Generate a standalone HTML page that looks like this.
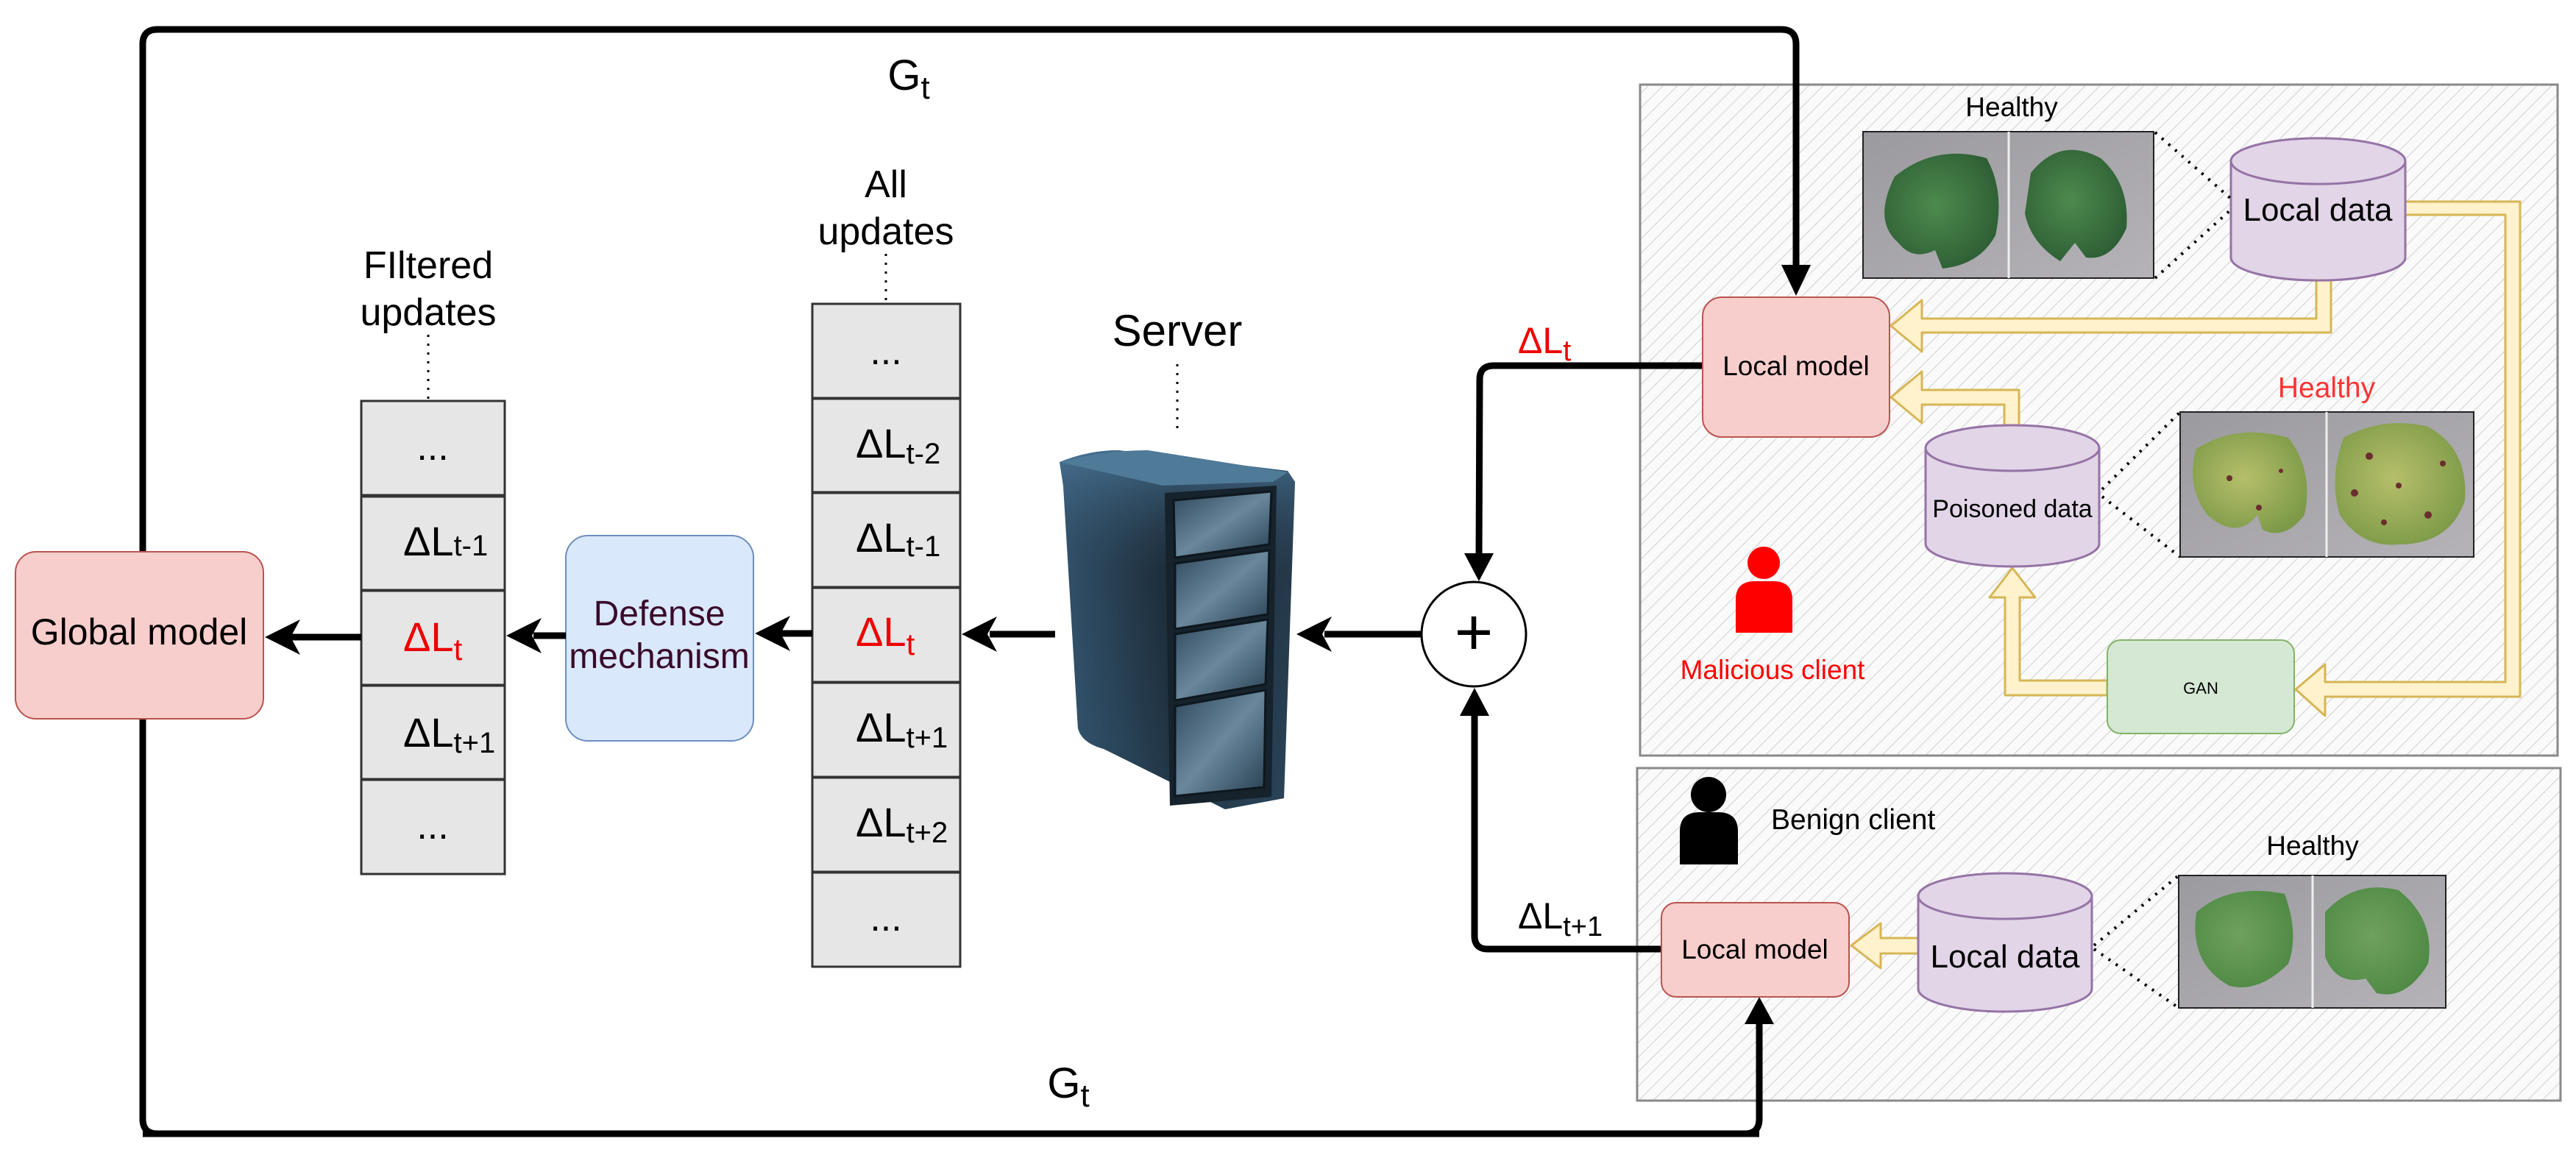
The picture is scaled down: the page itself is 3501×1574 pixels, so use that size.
<!DOCTYPE html>
<html><head><meta charset="utf-8"><style>
html,body{margin:0;padding:0;background:#fff}
svg{display:block}
text{font-family:"Liberation Sans",sans-serif}
</style></head><body>
<svg width="3501" height="1574" viewBox="0 0 3501 1574" xmlns="http://www.w3.org/2000/svg">
<defs>
<pattern id="hatch" width="14" height="14" patternUnits="userSpaceOnUse" patternTransform="rotate(45)">
<rect width="14" height="14" fill="#fafafa"/>
<line x1="0" y1="0" x2="0" y2="14" stroke="#cfcfcf" stroke-width="2"/>
</pattern>
<linearGradient id="side" x1="0" x2="1" y1="0" y2="0">
<stop offset="0" stop-color="#3d6585"/><stop offset="0.5" stop-color="#1b2a36"/><stop offset="1" stop-color="#2a4256"/>
</linearGradient>
<linearGradient id="sidev" x1="0" x2="0" y1="0" y2="1">
<stop offset="0" stop-color="#4a7597" stop-opacity="0.8"/><stop offset="0.35" stop-color="#1a2630" stop-opacity="0.3"/><stop offset="1" stop-color="#2c4a60" stop-opacity="0.4"/>
</linearGradient>
<linearGradient id="bay" x1="0" x2="1" y1="0" y2="1">
<stop offset="0" stop-color="#2e475a"/><stop offset="0.5" stop-color="#6a879c"/><stop offset="1" stop-color="#263e50"/>
</linearGradient>
<linearGradient id="leafbg" x1="0" x2="1" y1="0" y2="1">
<stop offset="0" stop-color="#9b9a9f"/><stop offset="1" stop-color="#b5b3b8"/>
</linearGradient>
<radialGradient id="leafg" cx="0.45" cy="0.45" r="0.6">
<stop offset="0" stop-color="#4e8a4e"/><stop offset="1" stop-color="#2d5e34"/>
</radialGradient>
<radialGradient id="leafl" cx="0.45" cy="0.45" r="0.6">
<stop offset="0" stop-color="#6fa05e"/><stop offset="1" stop-color="#4f8a45"/>
</radialGradient>
<radialGradient id="leafsick" cx="0.45" cy="0.45" r="0.6">
<stop offset="0" stop-color="#b6bf6a"/><stop offset="1" stop-color="#7d9a48"/>
</radialGradient>
</defs>

<rect x="2229" y="115" width="1247" height="912" fill="url(#hatch)" stroke="#8a8a8a" stroke-width="3"/>
<rect x="2225" y="1044" width="1255" height="452" fill="url(#hatch)" stroke="#8a8a8a" stroke-width="3"/>

<path d="M2391,1541 L214,1541 Q194,1541 194,1521 L194,60 Q194,40 214,40 L2421,40 Q2441,40 2441,60 L2441,370" fill="none" stroke="#000" stroke-width="9"/>
<polygon points="2421,360 2461,360 2441,402" fill="#000"/>
<path d="M194,1541 L2371,1541 Q2391,1541 2391,1521 L2391,1385" fill="none" stroke="#000" stroke-width="9"/>
<polygon points="2371,1392 2411,1392 2391,1355" fill="#000"/>

<text x="1235" y="122" font-size="58" text-anchor="middle">G<tspan font-size="44" dy="12">t</tspan></text>
<text x="1452" y="1492" font-size="58" text-anchor="middle">G<tspan font-size="44" dy="12">t</tspan></text>

<rect x="21" y="750" width="337" height="227" rx="28" fill="#f8cecc" stroke="#b85450" stroke-width="2"/>
<text x="189" y="876" font-size="50" text-anchor="middle">Global model</text>

<g fill="#e6e6e6" stroke="#333" stroke-width="3">
<rect x="491" y="545" width="195" height="128"/>
<rect x="491" y="675" width="195" height="127"/>
<rect x="491" y="803" width="195" height="128"/>
<rect x="491" y="932" width="195" height="127"/>
<rect x="491" y="1060" width="195" height="128"/>
</g>
<text x="582" y="378" font-size="52" text-anchor="middle">FIltered</text>
<text x="582" y="442" font-size="52" text-anchor="middle">updates</text>
<line x1="582" y1="455" x2="582" y2="543" stroke="#000" stroke-width="3" stroke-dasharray="3,9"/>
<text x="588" y="625" font-size="52" text-anchor="middle">...</text>
<text x="548" y="755" font-size="56">ΔL<tspan font-size="40">t-1</tspan></text>
<text x="548" y="885" font-size="56" fill="#e00">ΔL<tspan font-size="42" dy="12">t</tspan></text>
<text x="548" y="1015" font-size="56">ΔL<tspan font-size="40" dy="8">t+1</tspan></text>
<text x="588" y="1140" font-size="52" text-anchor="middle">...</text>

<rect x="769" y="728" width="255" height="279" rx="30" fill="#dae8fc" stroke="#6c8ebf" stroke-width="2"/>
<text x="896" y="850" font-size="48" text-anchor="middle" fill="#3a0a2a">Defense</text>
<text x="896" y="908" font-size="48" text-anchor="middle" fill="#3a0a2a">mechanism</text>

<g fill="#e6e6e6" stroke="#333" stroke-width="3">
<rect x="1104" y="413" width="201" height="128"/>
<rect x="1104" y="542" width="201" height="127"/>
<rect x="1104" y="670" width="201" height="128"/>
<rect x="1104" y="799" width="201" height="128"/>
<rect x="1104" y="928" width="201" height="128"/>
<rect x="1104" y="1057" width="201" height="128"/>
<rect x="1104" y="1186" width="201" height="128"/>
</g>
<text x="1204" y="268" font-size="52" text-anchor="middle">All</text>
<text x="1204" y="332" font-size="52" text-anchor="middle">updates</text>
<line x1="1204" y1="345" x2="1204" y2="411" stroke="#000" stroke-width="3" stroke-dasharray="3,9"/>
<text x="1204" y="495" font-size="52" text-anchor="middle">...</text>
<text x="1163" y="622" font-size="56">ΔL<tspan font-size="40" dy="8">t-2</tspan></text>
<text x="1163" y="750" font-size="56">ΔL<tspan font-size="40" dy="6">t-1</tspan></text>
<text x="1163" y="878" font-size="56" fill="#e00">ΔL<tspan font-size="42" dy="12">t</tspan></text>
<text x="1163" y="1008" font-size="56">ΔL<tspan font-size="40" dy="8">t+1</tspan></text>
<text x="1163" y="1137" font-size="56">ΔL<tspan font-size="40" dy="8">t+2</tspan></text>
<text x="1204" y="1265" font-size="52" text-anchor="middle">...</text>

<text x="1600" y="470" font-size="60" text-anchor="middle">Server</text>
<line x1="1600" y1="495" x2="1600" y2="585" stroke="#000" stroke-width="3" stroke-dasharray="3,9"/>
<g>
<path d="M1440,628 Q1480,612 1520,612 L1750,640 L1760,655 L1745,1085 L1665,1100 L1500,1018 Q1470,1010 1465,990 L1445,660 Z" fill="url(#side)"/>
<path d="M1440,628 Q1480,612 1520,612 L1750,640 L1760,655 L1745,1085 L1665,1100 L1500,1018 Q1470,1010 1465,990 L1445,660 Z" fill="url(#sidev)"/>
<path d="M1440,628 Q1500,612 1560,612 L1750,642 L1730,655 L1580,660 Z" fill="#4f7a98"/>
<path d="M1583,670 L1735,660 L1728,1083 L1590,1095 Z" fill="#16222c"/>
<g fill="url(#bay)" stroke="#0e171e" stroke-width="3">
<path d="M1595,680 L1728,668 L1725,740 L1597,758 Z"/>
<path d="M1597,766 L1725,748 L1723,835 L1597,855 Z"/>
<path d="M1597,862 L1723,842 L1720,930 L1597,952 Z"/>
<path d="M1597,960 L1720,938 L1718,1070 L1597,1082 Z"/>
</g>
</g>

<g stroke="#000" stroke-width="9" fill="none">
<line x1="1434" y1="862" x2="1345" y2="862"/>
<line x1="1104" y1="861" x2="1060" y2="861"/>
<line x1="769" y1="864" x2="725" y2="864"/>
<line x1="491" y1="866" x2="395" y2="866"/>
<line x1="1932" y1="862" x2="1800" y2="862"/>
</g>
<g fill="#000">
<polygon points="1307,862 1355,838 1342,862 1355,886"/>
<polygon points="1026,861 1074,837 1061,861 1074,885"/>
<polygon points="688,864 736,840 723,864 736,888"/>
<polygon points="360,866 408,842 395,866 408,890"/>
<polygon points="1762,862 1810,838 1797,862 1810,886"/>
</g>

<circle cx="2003" cy="862" r="71" fill="#fff" stroke="#000" stroke-width="3"/>
<text x="2003" y="890" font-size="90" text-anchor="middle">+</text>

<path d="M2314,497 L2030,497 Q2011,497 2011,516 L2010,760" fill="none" stroke="#000" stroke-width="9"/>
<polygon points="1990,752 2030,752 2010,790" fill="#000"/>
<path d="M2258,1290 L2022,1290 Q2004,1290 2004,1272 L2004,965" fill="none" stroke="#000" stroke-width="9"/>
<polygon points="1984,973 2024,973 2004,935" fill="#000"/>
<text x="2063" y="480" font-size="50" fill="#e00">ΔL<tspan font-size="40" dy="10">t</tspan></text>
<text x="2063" y="1262" font-size="50">ΔL<tspan font-size="38" dy="10">t+1</tspan></text>

<g fill="#fff2cc" stroke="#d6b656" stroke-width="3" stroke-linejoin="round">
<path d="M3148,381 L3168,381 L3168,452 L2612,452 L2612,478 L2570,443 L2612,408 L2612,433 L3148,433 Z"/>
<path d="M2724,578 L2744,578 L2744,530 L2612,530 L2612,505 L2570,540 L2612,575 L2612,550 L2724,550 Z"/>
<path d="M3269,274 L3425,274 L3425,947 L3160,947 L3160,973 L3120,937 L3160,903 L3160,927 L3405,927 L3405,292 L3269,292 Z"/>
<path d="M2864,925 L2745,925 L2745,812 L2766,812 L2735,772 L2704,812 L2725,812 L2725,945 L2864,945 Z"/>
<path d="M2607,1275 L2556,1275 L2556,1255 L2516,1285 L2556,1316 L2556,1296 L2607,1296 Z"/>
</g>

<g fill="#e1d5e7" stroke="#9673a6" stroke-width="3">
<path d="M3032,219 A118,31 0 0 1 3269,219 L3269,350 A118,31 0 0 1 3032,350 Z"/>
<path d="M3032,219 A118,31 0 0 0 3269,219" fill="none"/>
<path d="M2617,609 A118,31 0 0 1 2853,609 L2853,739 A118,31 0 0 1 2617,739 Z"/>
<path d="M2617,609 A118,31 0 0 0 2853,609" fill="none"/>
<path d="M2607,1218 A118,31 0 0 1 2843,1218 L2843,1344 A118,31 0 0 1 2607,1344 Z"/>
<path d="M2607,1218 A118,31 0 0 0 2843,1218" fill="none"/>
</g>
<text x="3150" y="300" font-size="44" text-anchor="middle">Local data</text>
<text x="2735" y="703" font-size="34" text-anchor="middle">Poisoned data</text>
<text x="2725" y="1315" font-size="44" text-anchor="middle">Local data</text>

<rect x="2314" y="404" width="254" height="190" rx="26" fill="#f8cecc" stroke="#b85450" stroke-width="2"/>
<text x="2441" y="510" font-size="37" text-anchor="middle">Local model</text>
<rect x="2258" y="1227" width="255" height="128" rx="20" fill="#f8cecc" stroke="#b85450" stroke-width="2"/>
<text x="2385" y="1303" font-size="37" text-anchor="middle">Local model</text>

<rect x="2864" y="870" width="254" height="127" rx="18" fill="#d5e8d4" stroke="#82b366" stroke-width="2"/>
<text x="2991" y="943" font-size="22" text-anchor="middle">GAN</text>

<g stroke="#000" stroke-width="4" stroke-dasharray="3,9" fill="none">
<line x1="2929" y1="180" x2="3032" y2="270"/>
<line x1="2929" y1="378" x2="3032" y2="285"/>
<line x1="2857" y1="665" x2="2963" y2="560"/>
<line x1="2857" y1="675" x2="2963" y2="757"/>
<line x1="2846" y1="1285" x2="2961" y2="1190"/>
<line x1="2846" y1="1290" x2="2961" y2="1370"/>
</g>

<g>
<rect x="2532" y="179" width="395" height="199" fill="url(#leafbg)" stroke="#222" stroke-width="2"/>
<line x1="2730" y1="179" x2="2730" y2="378" stroke="#eee" stroke-width="3"/>
<path d="M2575,240 Q2630,195 2700,215 Q2725,260 2712,320 Q2690,360 2640,365 L2630,340 Q2600,355 2580,330 Q2545,300 2575,240 Z" fill="url(#leafg)"/>
<path d="M2760,235 Q2800,185 2855,215 Q2895,250 2890,310 Q2870,355 2835,350 L2820,330 L2800,355 Q2760,330 2752,290 Z" fill="url(#leafg)"/>

<rect x="2963" y="560" width="399" height="197" fill="url(#leafbg)" stroke="#222" stroke-width="2"/>
<line x1="3162" y1="560" x2="3162" y2="757" stroke="#eee" stroke-width="3"/>
<path d="M2985,610 Q3040,575 3110,595 Q3145,640 3132,700 Q3105,735 3075,720 L3068,700 Q3040,735 3000,700 Q2970,660 2985,610 Z" fill="url(#leafsick)"/>
<path d="M3185,595 Q3240,565 3300,580 Q3355,610 3350,680 Q3330,740 3260,740 Q3210,745 3180,700 Q3165,650 3185,595 Z" fill="url(#leafsick)"/>
<g fill="#6b2e2e">
<circle cx="3030" cy="650" r="4"/><circle cx="3070" cy="690" r="4"/><circle cx="3100" cy="640" r="3"/>
<circle cx="3220" cy="620" r="5"/><circle cx="3260" cy="660" r="4"/><circle cx="3300" cy="700" r="5"/><circle cx="3320" cy="630" r="4"/><circle cx="3240" cy="710" r="4"/><circle cx="3200" cy="670" r="5"/>
</g>

<rect x="2961" y="1190" width="363" height="180" fill="url(#leafbg)" stroke="#222" stroke-width="2"/>
<line x1="3143" y1="1190" x2="3143" y2="1370" stroke="#eee" stroke-width="3"/>
<path d="M2985,1240 Q3030,1200 3105,1215 Q3125,1270 3110,1310 Q3070,1350 3030,1340 Q2975,1310 2985,1240 Z" fill="url(#leafl)"/>
<path d="M3160,1240 Q3200,1195 3260,1210 Q3310,1250 3300,1310 Q3270,1360 3230,1350 L3215,1330 Q3175,1340 3160,1300 Z" fill="url(#leafl)"/>
</g>

<text x="2734" y="158" font-size="37" text-anchor="middle">Healthy</text>
<text x="3162" y="540" font-size="39" text-anchor="middle" fill="#f33">Healthy</text>
<text x="3143" y="1162" font-size="37" text-anchor="middle">Healthy</text>

<g fill="#f00">
<circle cx="2397" cy="765" r="22"/>
<path d="M2359,860 L2359,815 Q2359,790 2385,790 L2410,790 Q2436,790 2436,815 L2436,860 Z"/>
</g>
<text x="2409" y="923" font-size="37" text-anchor="middle" fill="#f00">Malicious client</text>
<g fill="#000">
<circle cx="2322" cy="1080" r="24"/>
<path d="M2283,1175 L2283,1130 Q2283,1104 2310,1104 L2335,1104 Q2362,1104 2362,1130 L2362,1175 Z"/>
</g>
<text x="2407" y="1127" font-size="39">Benign client</text>
</svg>
</body></html>
